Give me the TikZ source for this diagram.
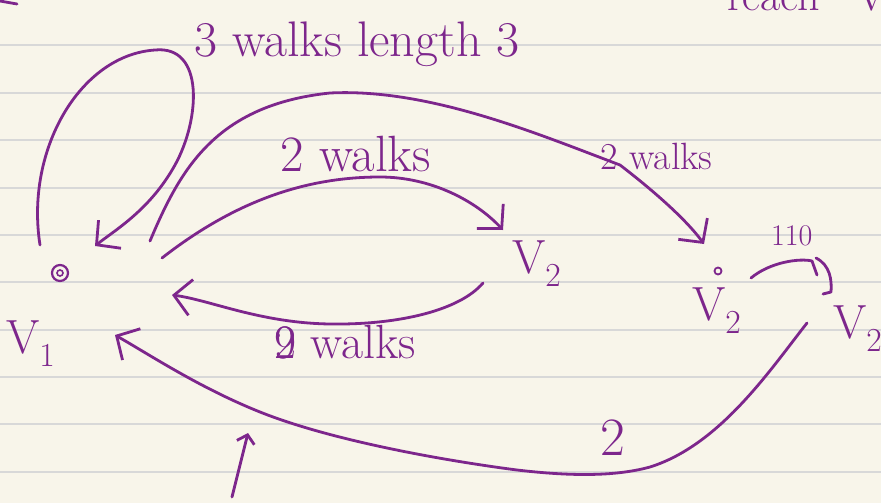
\documentclass[tikz,border=0pt]{standalone}
\usepackage{fontspec}
\usetikzlibrary{arrows.meta}
\definecolor{paper}{RGB}{248,245,234}
\definecolor{ruling}{RGB}{216,216,216}
\definecolor{ink}{RGB}{125,38,140}

\begin{document}
\begin{tikzpicture}[x=1pt, y=-1pt,
			pen/.style={ink, line width=2.8pt, line cap=round, line join=round},
			arr/.style={pen, -{Straight Barb[length=17pt, width=36pt, line width=2.8pt]}},
			hand/.style={ink, inner sep=0pt, anchor=base west, font=\fontsize{48}{48}\selectfont},
			vdot/.style={circle, draw=ink, line width=2.2pt, inner sep=0pt}]
			\fill[paper] (0,0) rectangle (881,503);
			\useasboundingbox (0,0) rectangle (881,503);
			\foreach \y in {45,93,140,188,235,282,330,377,424,472}
				\draw[ruling, line width=1.6pt] (0,\y) -- (881,\y);
			\node[vdot, minimum size=16pt] (v1) at (60,273) {};
			\node[vdot, minimum size=6pt, line width=1.6pt] (v1in) at (60,273) {};
			\node[vdot, minimum size=7pt, line width=1.8pt] (v2) at (718,271) {};
			\node[hand] (lv1) at (6,353) {V\textsubscript{1}};
			\node[hand] (lv2a) at (512,273) {V\textsubscript{2}};
			\node[hand] (lv2b) at (692,320) {V\textsubscript{2}};
			\node[hand] (lv2c) at (833,338) {V\textsubscript{2}};
			\node[hand, font=\fontsize{50}{50}\selectfont] (lwalks3) at (194,57) {3 walks length 3};
			\node[hand, font=\fontsize{51}{51}\selectfont] (lwalks2a) at (280,171) {2 walks};
			\node[hand, font=\fontsize{38}{38}\selectfont] (lwalks2b) at (600,169) {2 walks};
			\node[hand] (lwalks2c) at (274,358) {\rlap{9}2 walks};
			\node[hand, font=\fontsize{30}{30}\selectfont] (l110) at (771,245) {110};
			\node[hand, font=\fontsize{54}{54}\selectfont] (l2) at (600,455) {2};
			\node[hand, font=\fontsize{44}{44}\selectfont] (lreach) at (727,11) {reach};
			\node[hand, font=\fontsize{44}{44}\selectfont] (lvtop) at (856,11) {V};
			\coordinate (l1s) at (40,245);
			\coordinate (l1e) at (95,246);
			\coordinate (t1s) at (150,241);
			\coordinate (t1e) at (704,244);
			\coordinate (t2s) at (162,258);
			\coordinate (t2e) at (503,230);
			\coordinate (b1s) at (483,283);
			\coordinate (b1e) at (172,295);
			\coordinate (b2s) at (807,323);
			\coordinate (b2e) at (115,335);
			\coordinate (c1) at (751,278);
			\coordinate (c2) at (817,275);
			\coordinate (br1) at (816,258);
			\coordinate (br2) at (823,294);
			\coordinate (up0) at (232,497);
			\coordinate (up1) at (248,433);
			\coordinate (tl0) at (0,1);
			\coordinate (tl1) at (17,4);
			\draw[arr] (l1s) .. controls (25,150) and (80,55) .. (155,50) .. controls (205,45) and (200,120) .. (175,165) .. controls (150,210) and (115,230) .. (l1e);
			\draw[arr] (t1s) .. controls (180,170) and (215,105) .. (330,93) .. controls (430,88) and (540,135) .. (620,165) .. controls (650,188) and (685,218) .. (t1e);
			\draw[arr] (t2s) .. controls (230,205) and (300,177) .. (380,177) .. controls (430,177) and (475,200) .. (t2e);
			\draw[arr] (b1s) .. controls (460,310) and (400,325) .. (330,324) .. controls (260,323) and (210,300) .. (b1e);
			\draw[arr] (b2s) .. controls (770,370) and (720,445) .. (650,467) .. controls (610,478) and (560,475) .. (517,470) .. controls (440,460) and (330,440) .. (260,412) .. controls (200,388) and (150,355) .. (b2e);
			\draw[pen] (c1) .. controls (770,262) and (800,258) .. (812,261) -- (c2);
			\draw[pen] (br1) .. controls (830,265) and (832,280) .. (831,292) -- (br2);
			\draw[pen, -{Straight Barb[length=8pt, width=18pt, line width=2.8pt]}] (up0) -- (up1);
			\draw[pen] (tl0) -- (tl1);
		\end{tikzpicture}
\end{document}
